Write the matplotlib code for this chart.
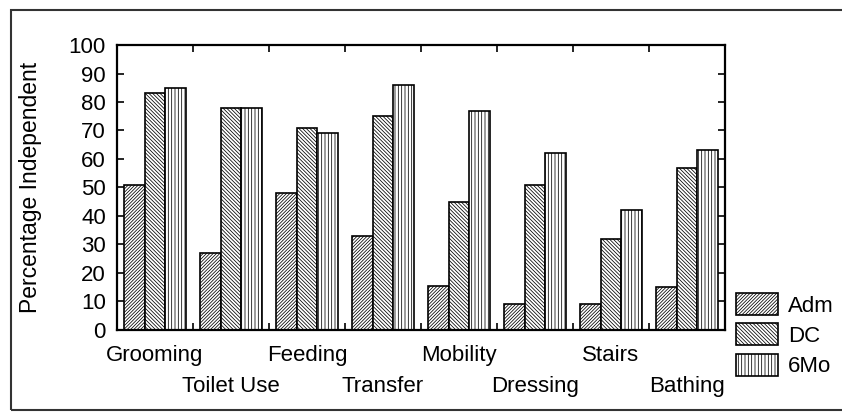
import numpy as np
import matplotlib.pyplot as plt
from matplotlib.patches import Rectangle

# activities and percentage independent at each time point
activities = ["Grooming", "Toilet Use", "Feeding", "Transfer",
              "Mobility", "Dressing", "Stairs", "Bathing"]
adm = [51, 27, 48, 33, 15.5, 9, 9, 15]
dc = [83, 78, 71, 75, 45, 51, 32, 57]
six_mo = [85, 78, 69, 86, 77, 62, 42, 63]
series_names = ["Adm", "DC", "6Mo"]
y_ticks = list(range(0, 101, 10))

plt.rcParams["font.family"] = ["Liberation Sans", "DejaVu Sans"]
plt.rcParams["hatch.linewidth"] = 0.55
plt.rcParams["hatch.color"] = "#4a4a4a"

fig = plt.figure(figsize=(8.42, 4.17), dpi=100)
ax = fig.add_axes([0.139, 0.209, 0.722, 0.683])

x = np.arange(len(activities))
w = 0.27
hatches = ["/" * 10, "\\" * 9, "|" * 5]
for k, vals in enumerate([adm, dc, six_mo]):
    ax.bar(x + (k - 1) * w, vals, width=w, facecolor="white",
           edgecolor="black", linewidth=1.2, hatch=hatches[k],
           label=series_names[k])

ax.set_xlim(-0.5, len(activities) - 0.5)
ax.set_ylim(0, 100)
ax.set_yticks(y_ticks)
ax.tick_params(axis="y", direction="in", length=5, width=1.2,
               labelsize=16, pad=8, right=True)
# ticks sit on the boundaries between groups
ax.set_xticks(x[:-1] + 0.5)
ax.set_xticklabels([])
ax.tick_params(axis="x", direction="in", length=5, width=1.2, top=True)
for s in ax.spines.values():
    s.set_linewidth(1.6)

# staggered category labels
for i, name in enumerate(activities):
    yoff = -0.09 if i % 2 == 0 else -0.2
    ax.text(i, yoff, name, transform=ax.get_xaxis_transform(),
            ha="center", va="center", fontsize=16)

ax.set_ylabel("Percentage Independent", fontsize=16.5)
ax.yaxis.set_label_coords(-0.123, 0.5)

fig.legend(loc="upper left", bbox_to_anchor=(0.874, 0.297), frameon=False,
           fontsize=16, handlelength=1.9, handleheight=1.15,
           labelspacing=0.3, handletextpad=0.45, borderpad=0,
           borderaxespad=0)

# outer frame around the figure
fig.patches.append(Rectangle((0.013, 0.017), 1.2, 0.96, transform=fig.transFigure,
                             fill=False, edgecolor="#333333", linewidth=1.5))

fig.savefig("out.png", dpi=100)
